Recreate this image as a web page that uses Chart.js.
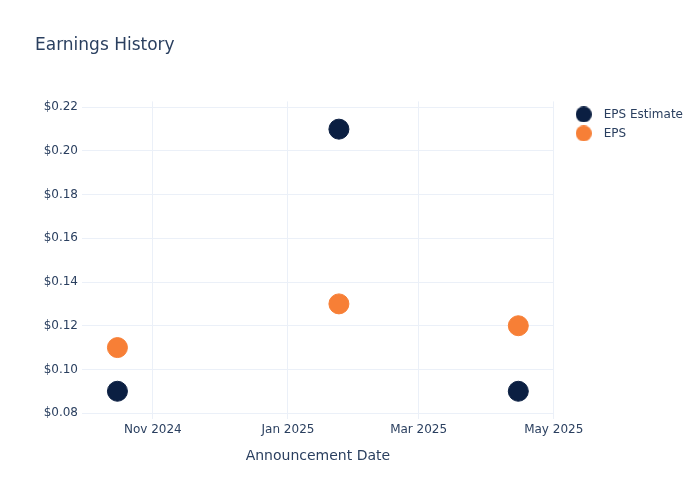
<!DOCTYPE html>
<html>
<head>
<meta charset="utf-8">
<script src="https://cdn.jsdelivr.net/npm/chart.js@4.4.1/dist/chart.umd.min.js"></script>
<style>
    html, body { margin: 0; padding: 0; background: #fff; }
    #wrap { width: 700px; height: 500px; }
</style>
</head>
<body>
<div id="wrap"><canvas id="earningsChart"></canvas></div>
<script>
// 数据
const announceDates = ['2024-10-16', '2025-01-24', '2025-04-15'];
const epsEstimate = [0.09, 0.21, 0.09];
const epsActual = [0.11, 0.13, 0.12];
const monthTicks = ['2024-11-01', '2025-01-01', '2025-03-01', '2025-05-01'];
const monthLabels = ['Nov 2024', 'Jan 2025', 'Mar 2025', 'May 2025'];
const yTicks = [0.08, 0.10, 0.12, 0.14, 0.16, 0.18, 0.20, 0.22];

const toTime = s => Date.parse(s + 'T00:00:00Z');
const textColor = '#2a3f5f';
const gridColor = '#ebf0f8';
const FONT = "'DejaVu Sans', sans-serif";

// 图例的小圆点
function makeDot(color) {
    const c = document.createElement('canvas');
    c.width = 16;
    c.height = 16;
    const g = c.getContext('2d');
    g.fillStyle = color;
    g.beginPath();
    g.arc(8, 8, 8, 0, Math.PI * 2);
    g.fill();
    return c;
}

// 图例往右挪一点
const legendShift = {
    id: 'legendShift',
    afterLayout(chart) {
        const lg = chart.legend;
        if (lg) { lg.left += 9; lg.right += 9; }
    }
};

const ctx = document.getElementById('earningsChart').getContext('2d');
const chart = new Chart(ctx, {
    type: 'scatter',
    data: {
        datasets: [{
            label: 'EPS Estimate',
            data: announceDates.map((d, i) => ({ x: toTime(d), y: epsEstimate[i] })),
            backgroundColor: '#0b1f42',
            borderColor: '#0b1f42',
            pointRadius: 10,
            pointHoverRadius: 10
        }, {
            label: 'EPS',
            data: announceDates.map((d, i) => ({ x: toTime(d), y: epsActual[i] })),
            backgroundColor: '#f77f36',
            borderColor: '#f77f36',
            pointRadius: 10,
            pointHoverRadius: 10
        }]
    },
    options: {
        responsive: true,
        maintainAspectRatio: false,
        animation: false,
        layout: { padding: { left: 35, right: 16, top: 0, bottom: 0 } },
        plugins: {
            title: {
                display: true,
                text: 'Earnings History',
                align: 'start',
                color: textColor,
                font: { family: FONT, size: 17, weight: 'normal' },
                padding: { top: 35, bottom: 46 }
            },
            legend: {
                position: 'right',
                align: 'start',
                fullSize: false,
                labels: {
                    usePointStyle: true,
                    pointStyleWidth: 28,
                    boxHeight: 11.3,
                    padding: 7,
                    color: textColor,
                    font: { family: FONT, size: 12 },
                    generateLabels: chart => {
                        const items = Chart.defaults.plugins.legend.labels.generateLabels(chart);
                        return items.map(it => Object.assign(it, { pointStyle: makeDot(it.fillStyle) }));
                    }
                }
            },
            tooltip: { enabled: false }
        },
        scales: {
            x: {
                type: 'linear',
                min: toTime('2024-09-30'),
                max: toTime('2025-05-01'),
                afterBuildTicks: scale => {
                    scale.ticks = monthTicks.map(d => ({ value: toTime(d) }));
                },
                afterFit: scale => { scale.height = 81; },
                ticks: {
                    color: textColor,
                    font: { family: FONT, size: 12 },
                    padding: 4,
                    maxRotation: 0,
                    callback: (v, i) => monthLabels[i]
                },
                grid: { color: gridColor, drawTicks: false },
                border: { display: false },
                title: {
                    display: true,
                    text: 'Announcement Date',
                    color: textColor,
                    font: { family: FONT, size: 14 },
                    padding: { top: 0, bottom: 35 }
                }
            },
            y: {
                min: 0.0773,
                max: 0.2227,
                afterBuildTicks: scale => {
                    scale.ticks = yTicks.map(v => ({ value: v }));
                },
                afterFit: scale => { scale.width = 47; },
                ticks: {
                    color: textColor,
                    font: { family: FONT, size: 12 },
                    padding: 4,
                    callback: v => '$' + v.toFixed(2)
                },
                grid: { color: gridColor, drawTicks: false },
                border: { display: false }
            }
        }
    },
    plugins: [legendShift]
});
</script>
</body>
</html>
